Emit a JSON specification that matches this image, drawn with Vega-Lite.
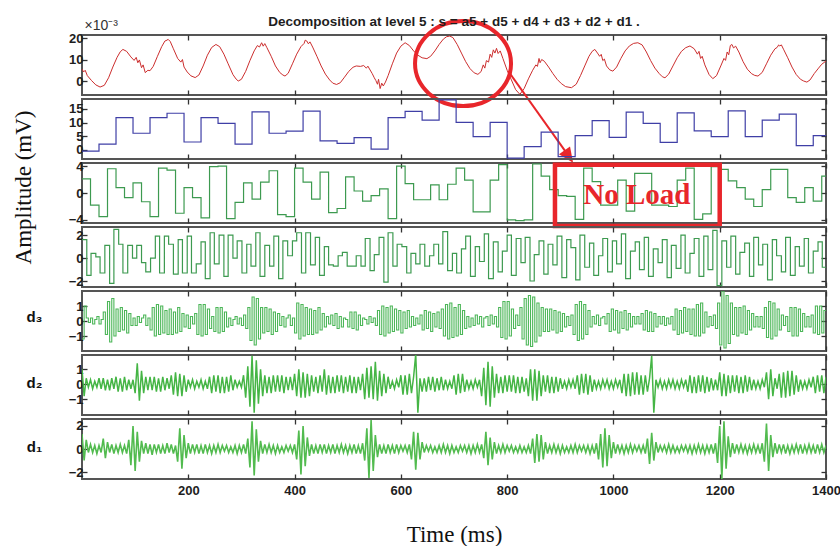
{
  "$schema": "https://vega.github.io/schema/vega-lite/v6.json",
  "background": "white",
  "padding": {"left": 11, "top": 12, "right": 0, "bottom": 0},
  "title": {"text": "Decomposition at level 5 : s = a5 + d5 + d4 + d3 + d2 + d1 .", "anchor": "middle", "frame": "group", "font": "Liberation Sans", "fontSize": 13.5, "fontWeight": "bold", "color": "#1e1e1e", "offset": -16},
  "spacing": 4,
  "bounds": "flush",
  "config": {
    "view": {"stroke": "#555555", "strokeWidth": 2},
    "axis": {"grid": false, "domain": false, "labelFlush": false, "tickColor": "#333333", "tickWidth": 1.3, "tickSize": -5, "labelFont": "Liberation Sans", "labelFontWeight": "bold", "labelFontSize": 13, "labelColor": "#1e1e1e", "labelPadding": 4, "titleFont": "Liberation Serif", "titleFontWeight": "normal", "titleFontSize": 23, "titleColor": "#111111"}
  },
  "datasets": {
    "s": [
      {"x":0,"y":5.6},{"x":3,"y":4.2},{"x":6,"y":5.0},{"x":10,"y":2.5},{"x":18,"y":0.2},{"x":26,"y":-1.8},{"x":34,"y":-2.8},{"x":42,"y":-2.0},{"x":50,"y":1.5},{"x":58,"y":6.5},{"x":66,"y":11.0},{"x":72,"y":13.6},{"x":77,"y":14.7},{"x":84,"y":13.8},{"x":92,"y":11.2},{"x":98,"y":9.6},{"x":102,"y":11.0},{"x":105,"y":8.5},{"x":108,"y":9.8},{"x":112,"y":6.2},{"x":115,"y":7.5},{"x":119,"y":3.9},{"x":124,"y":5.0},{"x":128,"y":4.8},{"x":134,"y":6.8},{"x":142,"y":11.5},{"x":150,"y":16.0},{"x":156,"y":18.6},{"x":160,"y":19.0},{"x":162,"y":19.4},{"x":166,"y":18.4},{"x":172,"y":15.0},{"x":180,"y":10.5},{"x":186,"y":8.8},{"x":189,"y":10.0},{"x":192,"y":6.5},{"x":198,"y":4.2},{"x":205,"y":2.4},{"x":213,"y":1.6},{"x":220,"y":2.8},{"x":228,"y":7.0},{"x":236,"y":12.0},{"x":244,"y":15.6},{"x":252,"y":17.0},{"x":259,"y":16.0},{"x":267,"y":12.5},{"x":275,"y":8.0},{"x":284,"y":3.0},{"x":290,"y":0.9},{"x":294,"y":0.0},{"x":300,"y":0.8},{"x":308,"y":4.5},{"x":316,"y":9.5},{"x":324,"y":14.0},{"x":330,"y":16.5},{"x":334,"y":15.8},{"x":338,"y":17.8},{"x":341,"y":16.2},{"x":344,"y":17.4},{"x":348,"y":15.5},{"x":356,"y":11.5},{"x":364,"y":7.0},{"x":372,"y":4.0},{"x":378,"y":2.8},{"x":382,"y":2.3},{"x":388,"y":3.6},{"x":396,"y":8.0},{"x":404,"y":12.5},{"x":412,"y":16.0},{"x":418,"y":17.5},{"x":420,"y":19.0},{"x":423,"y":18.6},{"x":426,"y":17.3},{"x":429,"y":18.2},{"x":434,"y":15.8},{"x":442,"y":11.5},{"x":450,"y":7.0},{"x":458,"y":3.2},{"x":466,"y":0.5},{"x":472,"y":-1.0},{"x":479,"y":-1.6},{"x":486,"y":-0.8},{"x":494,"y":1.8},{"x":502,"y":4.5},{"x":510,"y":6.4},{"x":516,"y":7.0},{"x":524,"y":6.8},{"x":530,"y":7.2},{"x":535,"y":6.0},{"x":538,"y":6.9},{"x":541,"y":5.6},{"x":546,"y":3.5},{"x":550,"y":1.5},{"x":553,"y":0.2},{"x":556,"y":-1.5},{"x":558,"y":0.8},{"x":561,"y":-3.5},{"x":564,"y":-1.0},{"x":567,"y":-2.3},{"x":571,"y":-0.5},{"x":576,"y":2.5},{"x":584,"y":8.0},{"x":592,"y":13.0},{"x":600,"y":16.2},{"x":608,"y":17.8},{"x":616,"y":16.5},{"x":624,"y":14.0},{"x":632,"y":12.0},{"x":640,"y":10.8},{"x":649,"y":10.4},{"x":656,"y":11.5},{"x":664,"y":14.0},{"x":672,"y":17.0},{"x":680,"y":19.5},{"x":686,"y":20.6},{"x":692,"y":20.9},{"x":698,"y":20.2},{"x":706,"y":17.0},{"x":714,"y":13.0},{"x":722,"y":9.0},{"x":730,"y":5.8},{"x":738,"y":3.8},{"x":745,"y":3.1},{"x":751,"y":4.4},{"x":755,"y":7.5},{"x":758,"y":6.0},{"x":761,"y":9.5},{"x":765,"y":8.8},{"x":768,"y":12.5},{"x":771,"y":11.0},{"x":774,"y":14.5},{"x":777,"y":13.0},{"x":780,"y":15.2},{"x":783,"y":12.8},{"x":787,"y":14.0},{"x":792,"y":10.5},{"x":800,"y":5.0},{"x":808,"y":0.5},{"x":816,"y":-4.0},{"x":824,"y":-6.2},{"x":832,"y":-3.5},{"x":840,"y":1.0},{"x":848,"y":5.0},{"x":854,"y":7.5},{"x":857,"y":6.8},{"x":860,"y":10.5},{"x":862,"y":8.5},{"x":865,"y":10.0},{"x":870,"y":9.2},{"x":878,"y":6.5},{"x":886,"y":3.5},{"x":894,"y":0.8},{"x":902,"y":-1.2},{"x":910,"y":-2.6},{"x":921,"y":-3.1},{"x":930,"y":-1.5},{"x":938,"y":2.5},{"x":946,"y":7.0},{"x":954,"y":11.5},{"x":960,"y":13.8},{"x":965,"y":14.7},{"x":970,"y":13.0},{"x":974,"y":11.5},{"x":977,"y":12.4},{"x":980,"y":9.5},{"x":983,"y":10.2},{"x":987,"y":7.0},{"x":993,"y":5.2},{"x":999,"y":4.6},{"x":1006,"y":6.5},{"x":1014,"y":10.5},{"x":1022,"y":14.0},{"x":1030,"y":16.3},{"x":1038,"y":17.5},{"x":1046,"y":17.8},{"x":1054,"y":16.8},{"x":1062,"y":13.5},{"x":1070,"y":9.5},{"x":1078,"y":6.0},{"x":1086,"y":3.5},{"x":1092,"y":2.0},{"x":1097,"y":1.5},{"x":1104,"y":3.2},{"x":1112,"y":7.0},{"x":1120,"y":10.8},{"x":1128,"y":13.8},{"x":1136,"y":15.5},{"x":1144,"y":16.3},{"x":1152,"y":15.0},{"x":1158,"y":12.5},{"x":1161,"y":13.8},{"x":1164,"y":10.5},{"x":1167,"y":11.5},{"x":1172,"y":7.5},{"x":1180,"y":3.0},{"x":1187,"y":1.1},{"x":1194,"y":2.5},{"x":1202,"y":7.0},{"x":1208,"y":10.5},{"x":1211,"y":9.6},{"x":1214,"y":13.5},{"x":1217,"y":12.2},{"x":1220,"y":16.5},{"x":1223,"y":17.0},{"x":1226,"y":15.4},{"x":1230,"y":16.2},{"x":1236,"y":13.5},{"x":1244,"y":9.0},{"x":1252,"y":5.5},{"x":1260,"y":3.4},{"x":1266,"y":2.6},{"x":1272,"y":2.3},{"x":1280,"y":4.0},{"x":1288,"y":8.0},{"x":1296,"y":12.0},{"x":1304,"y":15.0},{"x":1308,"y":15.6},{"x":1311,"y":16.8},{"x":1313,"y":16.3},{"x":1316,"y":16.8},{"x":1320,"y":14.8},{"x":1328,"y":10.8},{"x":1336,"y":6.5},{"x":1344,"y":3.0},{"x":1352,"y":0.8},{"x":1358,"y":0.0},{"x":1364,"y":-0.5},{"x":1370,"y":0.5},{"x":1378,"y":3.5},{"x":1386,"y":6.0},{"x":1392,"y":7.8},{"x":1400,"y":9.3}
    ],
    "a5": [
      {"x":0,"y":-0.4},{"x":32,"y":2.1},{"x":64,"y":11.8},{"x":96,"y":6.1},{"x":128,"y":11.8},{"x":160,"y":13.4},{"x":192,"y":2.9},{"x":224,"y":11.8},{"x":256,"y":9.7},{"x":288,"y":2.1},{"x":320,"y":13.9},{"x":352,"y":6.1},{"x":384,"y":6.9},{"x":416,"y":14.2},{"x":448,"y":3.3},{"x":480,"y":2.4},{"x":512,"y":4.5},{"x":544,"y":0.3},{"x":576,"y":11.8},{"x":608,"y":14.1},{"x":640,"y":10.9},{"x":672,"y":18.3},{"x":704,"y":10.1},{"x":736,"y":4.9},{"x":768,"y":10.1},{"x":800,"y":-3.0},{"x":832,"y":1.2},{"x":864,"y":6.5},{"x":896,"y":-2.4},{"x":928,"y":5.2},{"x":960,"y":10.7},{"x":992,"y":4.6},{"x":1024,"y":13.8},{"x":1056,"y":9.7},{"x":1088,"y":2.8},{"x":1120,"y":13.5},{"x":1152,"y":7.0},{"x":1184,"y":4.9},{"x":1216,"y":14.3},{"x":1248,"y":4.9},{"x":1280,"y":10.9},{"x":1312,"y":13.1},{"x":1344,"y":1.6},{"x":1376,"y":5.2},{"x":1400,"y":5.2}
    ],
    "d5": [
      {"x":0,"y":2.1},{"x":16,"y":-1.8},{"x":32,"y":-3.5},{"x":48,"y":3.6},{"x":64,"y":0.8},{"x":80,"y":-0.7},{"x":96,"y":1.5},{"x":112,"y":-1.3},{"x":128,"y":-3.5},{"x":144,"y":3.7},{"x":160,"y":3.4},{"x":176,"y":-3.0},{"x":192,"y":0.8},{"x":208,"y":-0.7},{"x":224,"y":-3.7},{"x":240,"y":3.9},{"x":256,"y":4.0},{"x":272,"y":-3.8},{"x":288,"y":-1.4},{"x":304,"y":1.5},{"x":320,"y":-0.9},{"x":336,"y":1.6},{"x":352,"y":3.3},{"x":368,"y":-3.2},{"x":384,"y":-3.5},{"x":400,"y":3.7},{"x":416,"y":1.6},{"x":432,"y":-0.9},{"x":448,"y":3.1},{"x":464,"y":-2.9},{"x":480,"y":-2.3},{"x":496,"y":2.4},{"x":512,"y":0.3},{"x":528,"y":-1.2},{"x":544,"y":-0.4},{"x":560,"y":0.6},{"x":576,"y":-3.8},{"x":592,"y":4.0},{"x":608,"y":1.4},{"x":624,"y":-1.0},{"x":640,"y":-1.0},{"x":656,"y":1.2},{"x":672,"y":-1.0},{"x":688,"y":1.3},{"x":704,"y":3.7},{"x":720,"y":1.9},{"x":736,"y":-2.8},{"x":752,"y":-2.8},{"x":768,"y":1.9},{"x":784,"y":4.2},{"x":800,"y":-4.0},{"x":816,"y":-4.1},{"x":832,"y":-4.0},{"x":848,"y":4.3},{"x":864,"y":2.5},{"x":880,"y":0.5},{"x":896,"y":-0.4},{"x":912,"y":-0.5},{"x":928,"y":-3.9},{"x":944,"y":3.7},{"x":960,"y":1.7},{"x":976,"y":-1.8},{"x":992,"y":-1.8},{"x":1008,"y":1.9},{"x":1024,"y":-2.7},{"x":1040,"y":2.9},{"x":1056,"y":2.9},{"x":1072,"y":-1.8},{"x":1088,"y":-1.8},{"x":1104,"y":-2.0},{"x":1120,"y":1.9},{"x":1136,"y":3.7},{"x":1152,"y":-3.9},{"x":1168,"y":-3.1},{"x":1184,"y":3.9},{"x":1200,"y":3.5},{"x":1216,"y":1.8},{"x":1232,"y":0.8},{"x":1248,"y":-0.9},{"x":1264,"y":-2.0},{"x":1280,"y":0.5},{"x":1296,"y":3.5},{"x":1312,"y":3.5},{"x":1328,"y":-0.7},{"x":1344,"y":-1.4},{"x":1360,"y":0.8},{"x":1376,"y":-1.2},{"x":1392,"y":2.5},{"x":1400,"y":2.5}
    ],
    "d4": [
      {"x":0,"y":1.6},{"x":9,"y":-1.5},{"x":17,"y":0.4},{"x":26,"y":0.1},{"x":34,"y":-1.3},
      {"x":43,"y":1.1},{"x":52,"y":-2.2},{"x":60,"y":2.5},{"x":69,"y":1.2},{"x":77,"y":-1.3},
      {"x":86,"y":1.1},{"x":95,"y":0},{"x":103,"y":1.1},{"x":112,"y":-0.4},{"x":120,"y":-1.2},
      {"x":129,"y":0},{"x":138,"y":1.9},{"x":146,"y":-1.3},{"x":155,"y":1.9},{"x":163,"y":1.2},
      {"x":172,"y":-1.4},{"x":181,"y":1.6},{"x":189,"y":-1.3},{"x":198,"y":1.9},{"x":206,"y":-1.3},
      {"x":215,"y":-0.5},{"x":224,"y":1.4},{"x":232,"y":-1.8},{"x":241,"y":2.2},{"x":249,"y":-0.5},
      {"x":258,"y":2.0},{"x":267,"y":-1.6},{"x":275,"y":2.0},{"x":284,"y":0},{"x":292,"y":1.5},
      {"x":301,"y":-1.3},{"x":310,"y":1.2},{"x":318,"y":-0.7},{"x":327,"y":2.2},{"x":335,"y":-1.6},
      {"x":344,"y":1.1},{"x":353,"y":-0.7},{"x":361,"y":1.9},{"x":370,"y":-1.8},{"x":378,"y":1.5},
      {"x":387,"y":0.2},{"x":396,"y":1.5},{"x":404,"y":2.2},{"x":413,"y":-1.3},{"x":421,"y":2.2},
      {"x":430,"y":-0.6},{"x":439,"y":1.8},{"x":447,"y":-1.5},{"x":456,"y":1.0},{"x":464,"y":-0.6},
      {"x":473,"y":-0.7},{"x":482,"y":0.2},{"x":490,"y":0.5},{"x":499,"y":-0.7},{"x":507,"y":-0.7},
      {"x":516,"y":0.2},{"x":525,"y":-0.7},{"x":533,"y":1.7},{"x":542,"y":-1.1},{"x":550,"y":0.3},
      {"x":559,"y":1.8},{"x":568,"y":-2.1},{"x":576,"y":2.2},{"x":585,"y":-0.7},{"x":593,"y":1.2},
      {"x":602,"y":1.0},{"x":611,"y":-1.3},{"x":619,"y":0.4},{"x":628,"y":-0.5},{"x":636,"y":1.2},
      {"x":645,"y":-0.7},{"x":654,"y":0.2},{"x":662,"y":1.2},{"x":671,"y":-0.5},{"x":679,"y":2.3},
      {"x":688,"y":-1.1},{"x":697,"y":0.4},{"x":705,"y":-1.3},{"x":714,"y":0.8},{"x":722,"y":1.9},
      {"x":731,"y":-1.6},{"x":740,"y":1.0},{"x":748,"y":-0.3},{"x":757,"y":2.1},{"x":765,"y":-1.8},
      {"x":774,"y":1.4},{"x":783,"y":-1.2},{"x":791,"y":0.6},{"x":800,"y":2.0},{"x":808,"y":-1.5},
      {"x":817,"y":1.7},{"x":826,"y":-0.4},{"x":834,"y":1.8},{"x":843,"y":-2.0},{"x":851,"y":0.3},
      {"x":860,"y":1.5},{"x":869,"y":-1.4},{"x":877,"y":1.2},{"x":886,"y":-0.6},{"x":894,"y":1.9},
      {"x":903,"y":-1.7},{"x":912,"y":1.6},{"x":920,"y":0.9},{"x":929,"y":-1.9},{"x":937,"y":2.0},
      {"x":946,"y":-0.8},{"x":955,"y":1.3},{"x":963,"y":-1.5},{"x":972,"y":0.2},{"x":980,"y":1.7},
      {"x":989,"y":-1.2},{"x":998,"y":1.5},{"x":1006,"y":-0.5},{"x":1015,"y":2.1},{"x":1023,"y":-1.8},
      {"x":1032,"y":0.6},{"x":1041,"y":1.4},{"x":1049,"y":-1.0},{"x":1058,"y":1.8},{"x":1066,"y":-1.6},
      {"x":1075,"y":0.8},{"x":1084,"y":-0.4},{"x":1092,"y":1.6},{"x":1101,"y":-1.7},{"x":1109,"y":1.1},
      {"x":1118,"y":-0.9},{"x":1127,"y":2.0},{"x":1135,"y":-1.3},{"x":1144,"y":0.4},{"x":1152,"y":1.7},
      {"x":1161,"y":-1.6},{"x":1170,"y":1.9},{"x":1178,"y":-1.0},{"x":1187,"y":2.4},{"x":1195,"y":-2.4},
      {"x":1204,"y":1.5},{"x":1213,"y":-0.8},{"x":1221,"y":1.9},{"x":1230,"y":-1.4},{"x":1238,"y":0.5},
      {"x":1247,"y":1.3},{"x":1256,"y":-1.6},{"x":1264,"y":1.8},{"x":1273,"y":-0.6},{"x":1281,"y":1.2},
      {"x":1290,"y":-1.9},{"x":1299,"y":1.6},{"x":1307,"y":0.2},{"x":1316,"y":-1.2},{"x":1324,"y":1.8},
      {"x":1333,"y":-1.5},{"x":1342,"y":1.0},{"x":1350,"y":-0.7},{"x":1359,"y":1.7},{"x":1367,"y":-1.3},
      {"x":1376,"y":0.6},{"x":1385,"y":1.4},{"x":1393,"y":-0.8},{"x":1400,"y":-0.8}
    ],
    "d3": [
      {"x":0,"y":-1.2},{"x":4,"y":1.0},{"x":8,"y":0.2},{"x":12,"y":-0.1},{"x":16,"y":0.2},{"x":20,"y":-0.2},{"x":24,"y":0.1},{"x":28,"y":0.3},{"x":32,"y":-0.2},{"x":36,"y":0.1},
      {"x":40,"y":0.6},{"x":44,"y":-0.9},{"x":48,"y":1.3},{"x":52,"y":-1.4},{"x":56,"y":1.5},{"x":60,"y":-1.0},
      {"x":64,"y":0.8},{"x":68,"y":-0.7},{"x":72,"y":0.9},{"x":76,"y":-0.6},{"x":80,"y":0.7},{"x":84,"y":-0.8},{"x":88,"y":0.5},{"x":92,"y":-0.3},
      {"x":96,"y":0.2},{"x":100,"y":-0.3},{"x":104,"y":0.3},{"x":108,"y":-0.1},{"x":112,"y":0.2},{"x":116,"y":0.4},{"x":120,"y":-0.3},{"x":124,"y":0.2},
      {"x":128,"y":-0.6},{"x":132,"y":0.9},{"x":136,"y":-1.0},{"x":140,"y":1.1},{"x":144,"y":-0.9},{"x":148,"y":1.0},{"x":152,"y":-0.8},{"x":156,"y":0.7},
      {"x":160,"y":-0.9},{"x":164,"y":0.8},{"x":168,"y":-0.9},{"x":172,"y":0.6},{"x":176,"y":-0.8},{"x":180,"y":0.9},{"x":184,"y":-0.7},{"x":188,"y":0.5},{"x":192,"y":-0.4},
      {"x":196,"y":0.4},{"x":200,"y":-0.5},{"x":204,"y":0.3},{"x":208,"y":-0.2},{"x":212,"y":0.5},
      {"x":216,"y":-0.9},{"x":220,"y":1.1},{"x":224,"y":-1.0},{"x":228,"y":1.1},{"x":232,"y":-0.9},{"x":236,"y":0.8},{"x":240,"y":-0.5},{"x":244,"y":0.3},
      {"x":248,"y":-0.7},{"x":252,"y":0.9},{"x":256,"y":-0.8},{"x":260,"y":0.9},{"x":264,"y":-0.7},{"x":268,"y":0.6},{"x":272,"y":-0.4},
      {"x":276,"y":0.2},{"x":280,"y":-0.3},{"x":284,"y":0.1},{"x":288,"y":0.3},{"x":292,"y":-0.2},{"x":296,"y":0.2},{"x":300,"y":-0.3},{"x":304,"y":0.4},{"x":308,"y":-0.5},
      {"x":312,"y":0.9},{"x":316,"y":-1.3},{"x":320,"y":1.6},{"x":324,"y":-1.6},{"x":328,"y":1.5},{"x":332,"y":-1.2},{"x":336,"y":0.9},
      {"x":340,"y":-0.8},{"x":344,"y":0.9},{"x":348,"y":-0.7},{"x":352,"y":0.8},{"x":356,"y":-0.9},{"x":360,"y":0.6},{"x":364,"y":-0.7},{"x":368,"y":0.5},{"x":372,"y":-0.3},
      {"x":376,"y":0.3},{"x":380,"y":-0.4},{"x":384,"y":0.2},{"x":388,"y":0.4},{"x":392,"y":-0.3},{"x":396,"y":0.2},
      {"x":400,"y":-0.8},{"x":404,"y":1.2},{"x":408,"y":-1.2},{"x":412,"y":1.1},{"x":416,"y":-1.0},{"x":420,"y":0.9},
      {"x":424,"y":-0.9},{"x":428,"y":0.8},{"x":432,"y":-0.9},{"x":436,"y":0.7},{"x":440,"y":-0.8},{"x":444,"y":0.9},{"x":448,"y":-0.6},{"x":452,"y":0.5},{"x":456,"y":-0.4},{"x":460,"y":0.3},
      {"x":464,"y":-0.2},{"x":468,"y":0.4},{"x":472,"y":-0.3},{"x":476,"y":0.5},{"x":480,"y":-0.5},{"x":484,"y":0.3},{"x":488,"y":-0.4},{"x":492,"y":0.2},{"x":496,"y":0.1},
      {"x":500,"y":-0.4},{"x":504,"y":0.6},{"x":508,"y":-0.5},{"x":512,"y":0.6},{"x":516,"y":-0.6},{"x":520,"y":0.4},{"x":524,"y":-0.3},{"x":528,"y":0.2},
      {"x":532,"y":0.1},{"x":536,"y":-0.2},{"x":540,"y":0.3},{"x":544,"y":-0.1},{"x":548,"y":0.2},{"x":552,"y":-0.3},
      {"x":556,"y":0.7},{"x":560,"y":-0.9},{"x":564,"y":1.0},{"x":568,"y":-1.0},{"x":572,"y":0.9},{"x":576,"y":-0.8},{"x":580,"y":1.0},{"x":584,"y":-0.7},
      {"x":588,"y":0.8},{"x":592,"y":-0.6},{"x":596,"y":0.7},{"x":600,"y":-0.8},{"x":604,"y":0.6},{"x":608,"y":-0.5},{"x":612,"y":0.7},{"x":616,"y":-0.4},{"x":620,"y":0.3},
      {"x":624,"y":-0.3},{"x":628,"y":0.2},{"x":632,"y":-0.2},
      {"x":636,"y":0.4},{"x":640,"y":-0.6},{"x":644,"y":0.7},{"x":648,"y":-0.5},{"x":652,"y":0.6},{"x":656,"y":-0.7},{"x":660,"y":0.5},{"x":664,"y":-0.4},{"x":668,"y":0.6},{"x":672,"y":-0.5},
      {"x":676,"y":0.8},{"x":680,"y":-1.0},{"x":684,"y":1.1},{"x":688,"y":-1.2},{"x":692,"y":1.2},{"x":696,"y":-1.1},{"x":700,"y":0.9},{"x":704,"y":-1.0},{"x":708,"y":1.1},{"x":712,"y":-0.9},{"x":716,"y":0.7},{"x":720,"y":-0.5},
      {"x":724,"y":0.3},{"x":728,"y":-0.4},{"x":732,"y":0.2},{"x":736,"y":-0.3},{"x":740,"y":0.4},{"x":744,"y":-0.2},{"x":748,"y":0.3},{"x":752,"y":-0.4},{"x":756,"y":0.2},{"x":760,"y":0.3},{"x":764,"y":-0.3},{"x":768,"y":0.4},{"x":772,"y":-0.2},{"x":776,"y":0.3},{"x":780,"y":-0.4},
      {"x":784,"y":0.9},{"x":788,"y":-1.1},{"x":792,"y":1.3},{"x":796,"y":-1.2},{"x":800,"y":1.3},{"x":804,"y":-1.0},{"x":808,"y":0.8},
      {"x":812,"y":-0.5},{"x":816,"y":0.4},{"x":820,"y":-0.3},
      {"x":824,"y":0.9},{"x":828,"y":-1.2},{"x":832,"y":1.5},{"x":836,"y":-1.6},{"x":840,"y":1.7},{"x":844,"y":-1.7},{"x":848,"y":1.6},{"x":852,"y":-1.4},{"x":856,"y":1.2},{"x":860,"y":-1.0},{"x":864,"y":0.9},{"x":868,"y":-0.7},
      {"x":872,"y":0.8},{"x":876,"y":-0.7},{"x":880,"y":0.8},{"x":884,"y":-0.6},{"x":888,"y":0.7},{"x":892,"y":-0.8},{"x":896,"y":0.6},{"x":900,"y":-0.7},{"x":904,"y":0.5},{"x":908,"y":-0.4},{"x":912,"y":0.3},
      {"x":916,"y":-0.3},{"x":920,"y":0.4},
      {"x":924,"y":-0.9},{"x":928,"y":1.1},{"x":932,"y":-1.3},{"x":936,"y":1.3},{"x":940,"y":-1.2},{"x":944,"y":1.1},{"x":948,"y":-0.9},{"x":952,"y":0.7},
      {"x":956,"y":-0.4},{"x":960,"y":0.3},{"x":964,"y":-0.2},{"x":968,"y":0.4},{"x":972,"y":-0.3},{"x":976,"y":0.2},{"x":980,"y":0.3},{"x":984,"y":-0.2},
      {"x":988,"y":0.5},{"x":992,"y":-0.7},{"x":996,"y":0.8},{"x":1000,"y":-0.6},{"x":1004,"y":0.7},{"x":1008,"y":-0.8},{"x":1012,"y":0.6},{"x":1016,"y":-0.5},{"x":1020,"y":0.7},{"x":1024,"y":-0.6},{"x":1028,"y":0.5},{"x":1032,"y":-0.4},{"x":1036,"y":0.3},
      {"x":1040,"y":-0.2},{"x":1044,"y":0.3},{"x":1048,"y":-0.2},
      {"x":1052,"y":0.5},{"x":1056,"y":-0.6},{"x":1060,"y":0.7},{"x":1064,"y":-0.7},{"x":1068,"y":0.6},{"x":1072,"y":-0.7},{"x":1076,"y":0.5},{"x":1080,"y":-0.4},{"x":1084,"y":0.3},
      {"x":1088,"y":-0.2},{"x":1092,"y":0.3},{"x":1096,"y":-0.3},{"x":1100,"y":0.2},{"x":1104,"y":-0.2},{"x":1108,"y":0.3},
      {"x":1112,"y":-0.6},{"x":1116,"y":0.8},{"x":1120,"y":-0.9},{"x":1124,"y":0.7},{"x":1128,"y":-0.8},{"x":1132,"y":0.9},{"x":1136,"y":-0.7},{"x":1140,"y":0.8},{"x":1144,"y":-0.9},{"x":1148,"y":0.8},
      {"x":1152,"y":-1.0},{"x":1156,"y":1.1},{"x":1160,"y":-1.0},{"x":1164,"y":1.2},{"x":1168,"y":-0.8},{"x":1172,"y":0.6},
      {"x":1176,"y":-0.4},{"x":1180,"y":0.3},{"x":1184,"y":-0.3},{"x":1188,"y":0.4},{"x":1192,"y":-0.5},
      {"x":1196,"y":1.2},{"x":1200,"y":-1.6},{"x":1204,"y":2.0},{"x":1208,"y":-1.8},{"x":1212,"y":1.7},{"x":1216,"y":-1.5},{"x":1220,"y":1.2},{"x":1224,"y":-0.9},
      {"x":1228,"y":0.9},{"x":1232,"y":-1.0},{"x":1236,"y":0.9},{"x":1240,"y":-0.8},{"x":1244,"y":1.0},{"x":1248,"y":-0.9},{"x":1252,"y":0.7},{"x":1256,"y":-0.6},{"x":1260,"y":0.5},
      {"x":1264,"y":-0.4},{"x":1268,"y":0.3},{"x":1272,"y":-0.4},{"x":1276,"y":0.3},{"x":1280,"y":-0.5},
      {"x":1284,"y":0.9},{"x":1288,"y":-1.1},{"x":1292,"y":1.3},{"x":1296,"y":-1.2},{"x":1300,"y":1.2},{"x":1304,"y":-1.0},{"x":1308,"y":0.8},{"x":1312,"y":-0.6},
      {"x":1316,"y":0.4},{"x":1320,"y":-0.3},{"x":1324,"y":0.3},
      {"x":1328,"y":-0.7},{"x":1332,"y":0.9},{"x":1336,"y":-1.0},{"x":1340,"y":0.9},{"x":1344,"y":-1.0},{"x":1348,"y":0.8},{"x":1352,"y":-0.7},{"x":1356,"y":0.5},
      {"x":1360,"y":-0.4},{"x":1364,"y":0.3},{"x":1368,"y":-0.4},{"x":1372,"y":0.4},
      {"x":1376,"y":-0.8},{"x":1380,"y":1.0},{"x":1384,"y":-0.9},{"x":1388,"y":1.0},{"x":1392,"y":-0.8},{"x":1396,"y":0.7},{"x":1400,"y":0.7}
    ],
    "d2": [
      {"x":0,"y":1.0},{"x":4,"y":-0.8},{"x":8,"y":0.4},{"x":12,"y":-0.2},{"x":16,"y":0.3},{"x":20,"y":-0.3},{"x":24,"y":0.2},{"x":28,"y":-0.2},
      {"x":32,"y":0.4},{"x":36,"y":-0.3},{"x":40,"y":0.4},{"x":44,"y":-0.4},{"x":48,"y":0.3},{"x":52,"y":-0.4},{"x":56,"y":0.4},{"x":60,"y":-0.3},
      {"x":64,"y":0.5},{"x":68,"y":-0.5},{"x":72,"y":0.4},{"x":76,"y":-0.5},{"x":80,"y":0.5},{"x":84,"y":-0.4},{"x":88,"y":0.3},{"x":92,"y":-0.3},{"x":96,"y":0.3},
      {"x":100,"y":-0.6},{"x":104,"y":1.4},{"x":108,"y":-1.1},{"x":112,"y":0.9},{"x":116,"y":-0.6},{"x":120,"y":0.5},{"x":124,"y":-0.4},
      {"x":128,"y":0.5},{"x":132,"y":-0.4},{"x":136,"y":0.5},{"x":140,"y":-0.5},{"x":144,"y":0.4},{"x":148,"y":-0.5},{"x":152,"y":0.5},{"x":156,"y":-0.4},{"x":160,"y":0.4},{"x":164,"y":-0.3},
      {"x":168,"y":0.6},{"x":172,"y":-0.7},{"x":176,"y":0.8},{"x":180,"y":-0.8},{"x":184,"y":0.7},{"x":188,"y":-0.8},{"x":192,"y":0.6},{"x":196,"y":-0.5},
      {"x":200,"y":0.3},{"x":204,"y":-0.2},{"x":208,"y":0.3},{"x":212,"y":-0.3},{"x":216,"y":0.2},{"x":220,"y":-0.2},{"x":224,"y":0.3},{"x":228,"y":-0.3},{"x":232,"y":0.2},{"x":236,"y":-0.3},
      {"x":240,"y":0.5},{"x":244,"y":-0.6},{"x":248,"y":0.6},{"x":252,"y":-0.5},{"x":256,"y":0.6},{"x":260,"y":-0.6},{"x":264,"y":0.5},{"x":268,"y":-0.6},{"x":272,"y":0.5},{"x":276,"y":-0.5},{"x":280,"y":0.6},{"x":284,"y":-0.4},{"x":288,"y":0.3},
      {"x":292,"y":-0.2},{"x":296,"y":0.2},{"x":300,"y":-0.2},
      {"x":304,"y":0.6},{"x":308,"y":-0.9},{"x":312,"y":1.2},{"x":316,"y":-1.5},{"x":320,"y":1.9},{"x":324,"y":-1.9},{"x":328,"y":1.6},{"x":332,"y":-1.3},{"x":336,"y":1.0},{"x":340,"y":-0.8},{"x":344,"y":0.6},
      {"x":348,"y":-0.6},{"x":352,"y":0.5},{"x":356,"y":-0.6},{"x":360,"y":0.6},{"x":364,"y":-0.5},{"x":368,"y":0.6},{"x":372,"y":-0.5},{"x":376,"y":0.6},{"x":380,"y":-0.6},{"x":384,"y":0.5},{"x":388,"y":-0.4},{"x":392,"y":0.5},{"x":396,"y":-0.4},
      {"x":400,"y":0.7},{"x":404,"y":-0.8},{"x":408,"y":1.0},{"x":412,"y":-0.9},{"x":416,"y":0.8},{"x":420,"y":-0.9},{"x":424,"y":0.7},{"x":428,"y":-0.8},{"x":432,"y":0.6},{"x":436,"y":-0.5},
      {"x":440,"y":0.5},{"x":444,"y":-0.6},{"x":448,"y":0.6},{"x":452,"y":-0.5},{"x":456,"y":1.0},{"x":460,"y":-0.7},{"x":464,"y":0.6},{"x":468,"y":-0.6},{"x":472,"y":0.5},{"x":476,"y":-0.6},{"x":480,"y":0.6},{"x":484,"y":-0.5},{"x":488,"y":0.6},{"x":492,"y":-0.6},{"x":496,"y":0.5},{"x":500,"y":-0.5},{"x":504,"y":0.6},{"x":508,"y":-0.6},{"x":512,"y":0.5},{"x":516,"y":-0.6},{"x":520,"y":0.5},{"x":524,"y":-0.4},
      {"x":528,"y":0.7},{"x":532,"y":-1.0},{"x":536,"y":1.1},{"x":540,"y":-0.9},{"x":544,"y":1.2},{"x":548,"y":-1.0},{"x":552,"y":1.5},{"x":556,"y":-1.1},{"x":560,"y":0.9},{"x":564,"y":-0.8},{"x":568,"y":0.7},{"x":572,"y":-0.6},{"x":576,"y":0.5},
      {"x":580,"y":-0.3},{"x":584,"y":0.2},{"x":588,"y":-0.3},{"x":592,"y":0.3},{"x":596,"y":-0.2},
      {"x":600,"y":0.6},{"x":604,"y":-0.7},{"x":608,"y":0.6},{"x":612,"y":-0.7},{"x":616,"y":0.7},{"x":620,"y":-0.6},{"x":624,"y":0.5},{"x":628,"y":2.0},{"x":632,"y":-1.9},
      {"x":636,"y":0.4},{"x":640,"y":-0.5},{"x":644,"y":0.4},{"x":648,"y":-0.5},{"x":652,"y":0.5},{"x":656,"y":-0.4},{"x":660,"y":0.5},{"x":664,"y":-0.5},{"x":668,"y":0.4},{"x":672,"y":-0.4},{"x":676,"y":0.5},{"x":680,"y":-0.4},{"x":684,"y":0.3},
      {"x":688,"y":-0.3},{"x":692,"y":0.2},{"x":696,"y":-0.3},
      {"x":700,"y":0.6},{"x":704,"y":-0.7},{"x":708,"y":0.7},{"x":712,"y":-0.6},{"x":716,"y":0.7},{"x":720,"y":-0.5},
      {"x":724,"y":0.3},{"x":728,"y":-0.3},{"x":732,"y":0.2},{"x":736,"y":-0.3},{"x":740,"y":0.3},{"x":744,"y":-0.2},{"x":748,"y":0.3},
      {"x":752,"y":-0.8},{"x":756,"y":1.1},{"x":760,"y":-1.4},{"x":764,"y":1.5},{"x":768,"y":-1.5},{"x":772,"y":1.2},{"x":776,"y":-0.9},{"x":780,"y":0.7},
      {"x":784,"y":-0.6},{"x":788,"y":0.5},{"x":792,"y":-0.6},{"x":796,"y":0.6},{"x":800,"y":-0.5},{"x":804,"y":0.6},{"x":808,"y":-0.5},{"x":812,"y":0.6},{"x":816,"y":-0.6},{"x":820,"y":0.5},{"x":824,"y":-0.6},{"x":828,"y":0.5},{"x":832,"y":-0.5},{"x":836,"y":0.4},
      {"x":840,"y":-0.8},{"x":844,"y":1.0},{"x":848,"y":-1.1},{"x":852,"y":1.0},{"x":856,"y":-1.1},{"x":860,"y":0.9},{"x":864,"y":-0.8},{"x":868,"y":0.6},
      {"x":872,"y":-0.5},{"x":876,"y":0.6},{"x":880,"y":-0.6},{"x":884,"y":0.5},{"x":888,"y":-0.6},{"x":892,"y":0.5},{"x":896,"y":-0.5},{"x":900,"y":0.4},
      {"x":904,"y":-0.3},{"x":908,"y":0.2},{"x":912,"y":-0.3},{"x":916,"y":0.3},{"x":920,"y":-0.2},{"x":924,"y":0.3},{"x":928,"y":-0.3},
      {"x":932,"y":0.6},{"x":936,"y":-0.7},{"x":940,"y":0.7},{"x":944,"y":-0.6},{"x":948,"y":0.7},{"x":952,"y":-0.7},{"x":956,"y":0.6},{"x":960,"y":-0.5},
      {"x":964,"y":0.3},{"x":968,"y":-0.3},{"x":972,"y":0.2},{"x":976,"y":-0.3},{"x":980,"y":0.3},{"x":984,"y":-0.2},{"x":988,"y":0.3},{"x":992,"y":-0.3},{"x":996,"y":0.2},{"x":1000,"y":-0.3},{"x":1004,"y":0.3},{"x":1008,"y":-0.2},{"x":1012,"y":0.3},
      {"x":1016,"y":-0.6},{"x":1020,"y":0.7},{"x":1024,"y":-0.8},{"x":1028,"y":0.7},{"x":1032,"y":-0.8},{"x":1036,"y":0.8},{"x":1040,"y":-0.7},{"x":1044,"y":0.8},{"x":1048,"y":-0.7},{"x":1052,"y":0.6},{"x":1056,"y":-0.7},{"x":1060,"y":0.6},{"x":1064,"y":-0.5},{"x":1068,"y":0.4},
      {"x":1072,"y":1.9},{"x":1076,"y":-1.9},
      {"x":1080,"y":0.3},{"x":1084,"y":-0.2},{"x":1088,"y":0.3},{"x":1092,"y":-0.3},{"x":1096,"y":0.2},{"x":1100,"y":-0.3},{"x":1104,"y":0.3},{"x":1108,"y":-0.2},{"x":1112,"y":0.3},{"x":1116,"y":-0.3},{"x":1120,"y":0.2},{"x":1124,"y":-0.3},{"x":1128,"y":0.3},{"x":1132,"y":-0.2},{"x":1136,"y":0.3},
      {"x":1140,"y":-0.5},{"x":1144,"y":0.6},{"x":1148,"y":-0.6},{"x":1152,"y":0.5},{"x":1156,"y":-0.6},{"x":1160,"y":0.6},{"x":1164,"y":-0.5},{"x":1168,"y":0.6},{"x":1172,"y":-0.6},{"x":1176,"y":0.5},{"x":1180,"y":-0.5},{"x":1184,"y":0.4},
      {"x":1188,"y":-0.4},{"x":1192,"y":0.3},{"x":1196,"y":-0.4},
      {"x":1200,"y":0.8},{"x":1204,"y":-0.8},{"x":1208,"y":0.7},{"x":1212,"y":-0.8},{"x":1216,"y":0.6},
      {"x":1220,"y":-0.6},{"x":1224,"y":0.6},{"x":1228,"y":-0.5},{"x":1232,"y":0.6},{"x":1236,"y":-0.6},{"x":1240,"y":0.5},{"x":1244,"y":-0.6},{"x":1248,"y":0.6},{"x":1252,"y":-0.5},{"x":1256,"y":0.5},{"x":1260,"y":-0.4},
      {"x":1264,"y":0.3},{"x":1268,"y":-0.3},{"x":1272,"y":0.2},{"x":1276,"y":-0.3},{"x":1280,"y":0.3},{"x":1284,"y":-0.2},
      {"x":1288,"y":0.8},{"x":1292,"y":-1.0},{"x":1296,"y":1.0},{"x":1300,"y":-0.8},{"x":1304,"y":0.4},{"x":1308,"y":-0.3},
      {"x":1312,"y":0.7},{"x":1316,"y":-0.9},{"x":1320,"y":0.8},{"x":1324,"y":-0.9},{"x":1328,"y":0.9},{"x":1332,"y":-0.8},{"x":1336,"y":0.9},{"x":1340,"y":-0.7},{"x":1344,"y":0.6},{"x":1348,"y":-0.5},
      {"x":1352,"y":0.3},{"x":1356,"y":-0.3},{"x":1360,"y":0.2},{"x":1364,"y":-0.3},{"x":1368,"y":0.3},{"x":1372,"y":-0.2},
      {"x":1376,"y":0.5},{"x":1380,"y":-0.6},{"x":1384,"y":0.6},{"x":1388,"y":-0.5},{"x":1392,"y":0.6},{"x":1396,"y":-0.6},{"x":1400,"y":0.5}
    ],
    "d1": [
      {"x":0,"y":1.3},{"x":4,"y":-1.0},{"x":8,"y":0.8},{"x":12,"y":-0.3},{"x":16,"y":0.4},{"x":20,"y":-0.3},{"x":24,"y":0.3},{"x":28,"y":-0.4},{"x":32,"y":0.3},{"x":36,"y":-0.3},
      {"x":40,"y":0.9},{"x":44,"y":-0.8},{"x":48,"y":0.6},
      {"x":52,"y":-0.3},{"x":56,"y":0.4},{"x":60,"y":-0.4},{"x":64,"y":0.3},{"x":68,"y":-0.3},{"x":72,"y":0.4},{"x":76,"y":-0.3},{"x":80,"y":0.3},{"x":84,"y":-0.4},
      {"x":88,"y":0.8},{"x":92,"y":-1.4},{"x":96,"y":2.0},{"x":100,"y":-1.9},{"x":104,"y":1.5},{"x":108,"y":-1.1},{"x":112,"y":0.7},
      {"x":116,"y":-0.4},{"x":120,"y":0.5},{"x":124,"y":-0.4},{"x":128,"y":0.4},{"x":132,"y":-0.5},{"x":136,"y":0.4},{"x":140,"y":-0.3},{"x":144,"y":0.4},{"x":148,"y":-0.4},{"x":152,"y":0.3},{"x":156,"y":-0.4},{"x":160,"y":0.5},{"x":164,"y":-0.3},{"x":168,"y":0.4},{"x":172,"y":-0.4},{"x":176,"y":0.3},
      {"x":180,"y":-1.1},{"x":184,"y":1.8},{"x":188,"y":-1.7},{"x":192,"y":1.2},{"x":196,"y":-0.8},{"x":200,"y":0.5},
      {"x":204,"y":-0.4},{"x":208,"y":0.4},{"x":212,"y":-0.3},{"x":216,"y":0.4},{"x":220,"y":-0.4},{"x":224,"y":0.3},{"x":228,"y":-0.4},{"x":232,"y":0.4},{"x":236,"y":-0.3},{"x":240,"y":0.3},{"x":244,"y":-0.4},{"x":248,"y":0.3},{"x":252,"y":-0.3},{"x":256,"y":0.4},{"x":260,"y":-0.3},{"x":264,"y":0.3},{"x":268,"y":-0.2},{"x":272,"y":0.3},{"x":276,"y":-0.3},{"x":280,"y":0.2},{"x":284,"y":-0.3},{"x":288,"y":0.3},{"x":292,"y":-0.4},{"x":296,"y":0.3},{"x":300,"y":-0.3},{"x":304,"y":0.4},{"x":308,"y":-0.4},
      {"x":312,"y":0.9},{"x":316,"y":-1.6},{"x":320,"y":2.4},{"x":324,"y":-2.3},{"x":328,"y":1.7},{"x":332,"y":-1.1},{"x":336,"y":0.7},
      {"x":340,"y":-0.4},{"x":344,"y":0.4},{"x":348,"y":-0.3},{"x":352,"y":0.4},{"x":356,"y":-0.3},{"x":360,"y":0.3},{"x":364,"y":-0.4},{"x":368,"y":0.3},{"x":372,"y":-0.3},{"x":376,"y":0.2},{"x":380,"y":-0.3},{"x":384,"y":0.3},{"x":388,"y":-0.2},{"x":392,"y":0.3},{"x":396,"y":-0.3},{"x":400,"y":0.4},
      {"x":404,"y":-0.9},{"x":408,"y":1.6},{"x":412,"y":-2.2},{"x":416,"y":2.0},{"x":420,"y":-1.5},{"x":424,"y":1.0},{"x":428,"y":-0.6},
      {"x":432,"y":0.4},{"x":436,"y":-0.4},{"x":440,"y":0.3},{"x":444,"y":-0.4},{"x":448,"y":0.4},{"x":452,"y":-0.3},{"x":456,"y":0.4},{"x":460,"y":-0.4},{"x":464,"y":0.3},{"x":468,"y":-0.3},{"x":472,"y":0.4},{"x":476,"y":-0.4},{"x":480,"y":0.3},{"x":484,"y":-0.3},{"x":488,"y":0.4},{"x":492,"y":-0.3},{"x":496,"y":0.3},{"x":500,"y":-0.4},{"x":504,"y":0.3},{"x":508,"y":-0.3},{"x":512,"y":0.4},{"x":516,"y":-0.4},{"x":520,"y":0.3},{"x":524,"y":-0.4},{"x":528,"y":0.5},
      {"x":532,"y":-1.0},{"x":536,"y":1.8},{"x":540,"y":-2.5},{"x":544,"y":2.5},{"x":548,"y":-1.9},{"x":552,"y":1.2},{"x":556,"y":-0.7},
      {"x":560,"y":0.4},{"x":564,"y":-0.4},{"x":568,"y":0.3},{"x":572,"y":-0.4},{"x":576,"y":0.4},{"x":580,"y":-0.3},{"x":584,"y":0.3},{"x":588,"y":-0.4},{"x":592,"y":0.4},{"x":596,"y":-0.3},{"x":600,"y":0.3},{"x":604,"y":-0.2},{"x":608,"y":0.3},{"x":612,"y":-0.3},{"x":616,"y":0.4},
      {"x":620,"y":-0.9},{"x":624,"y":1.5},{"x":628,"y":-1.8},{"x":632,"y":1.4},{"x":636,"y":-0.9},{"x":640,"y":0.6},
      {"x":644,"y":-0.3},{"x":648,"y":0.3},{"x":652,"y":-0.2},{"x":656,"y":0.3},{"x":660,"y":-0.3},{"x":664,"y":0.2},{"x":668,"y":-0.3},{"x":672,"y":0.3},{"x":676,"y":-0.3},{"x":680,"y":0.4},{"x":684,"y":-0.3},{"x":688,"y":0.3},{"x":692,"y":-0.4},{"x":696,"y":0.3},{"x":700,"y":-0.3},{"x":704,"y":0.2},{"x":708,"y":-0.3},{"x":712,"y":0.3},{"x":716,"y":-0.2},{"x":720,"y":0.3},{"x":724,"y":-0.3},{"x":728,"y":0.3},{"x":732,"y":-0.4},{"x":736,"y":0.3},{"x":740,"y":-0.3},{"x":744,"y":0.4},{"x":748,"y":-0.3},{"x":752,"y":0.4},
      {"x":756,"y":-0.8},{"x":760,"y":1.5},{"x":764,"y":-1.4},{"x":768,"y":1.0},{"x":772,"y":-0.9},{"x":776,"y":0.6},
      {"x":780,"y":-0.4},{"x":784,"y":0.3},{"x":788,"y":-0.3},{"x":792,"y":0.4},{"x":796,"y":-0.3},{"x":800,"y":0.3},{"x":804,"y":-0.2},{"x":808,"y":0.3},{"x":812,"y":-0.3},{"x":816,"y":0.2},{"x":820,"y":-0.3},{"x":824,"y":0.3},{"x":828,"y":-0.3},{"x":832,"y":0.2},{"x":836,"y":-0.3},{"x":840,"y":0.3},{"x":844,"y":-0.4},
      {"x":848,"y":0.9},{"x":852,"y":-1.2},{"x":856,"y":1.3},{"x":860,"y":-1.1},{"x":864,"y":1.2},{"x":868,"y":-0.9},{"x":872,"y":0.6},
      {"x":876,"y":-0.4},{"x":880,"y":0.3},{"x":884,"y":-0.3},{"x":888,"y":0.4},{"x":892,"y":-0.3},{"x":896,"y":0.3},{"x":900,"y":-0.4},{"x":904,"y":0.3},{"x":908,"y":-0.3},{"x":912,"y":0.2},{"x":916,"y":-0.3},{"x":920,"y":0.3},{"x":924,"y":-0.3},{"x":928,"y":0.4},{"x":932,"y":-0.3},{"x":936,"y":0.3},{"x":940,"y":-0.2},{"x":944,"y":0.3},{"x":948,"y":-0.3},{"x":952,"y":0.3},{"x":956,"y":-0.4},{"x":960,"y":0.3},{"x":964,"y":-0.4},{"x":968,"y":0.5},
      {"x":972,"y":-0.9},{"x":976,"y":1.3},{"x":980,"y":-1.6},{"x":984,"y":1.8},{"x":988,"y":-1.5},{"x":992,"y":1.2},{"x":996,"y":-0.8},{"x":1000,"y":0.6},
      {"x":1004,"y":-0.4},{"x":1008,"y":0.4},{"x":1012,"y":-0.3},{"x":1016,"y":0.3},{"x":1020,"y":-0.4},{"x":1024,"y":0.3},{"x":1028,"y":-0.3},{"x":1032,"y":0.4},{"x":1036,"y":-0.3},{"x":1040,"y":0.3},{"x":1044,"y":-0.2},{"x":1048,"y":0.3},{"x":1052,"y":-0.3},{"x":1056,"y":0.3},{"x":1060,"y":-0.4},
      {"x":1064,"y":0.9},{"x":1068,"y":-1.3},{"x":1072,"y":1.4},{"x":1076,"y":-1.0},{"x":1080,"y":0.6},
      {"x":1084,"y":-0.3},{"x":1088,"y":0.3},{"x":1092,"y":-0.2},{"x":1096,"y":0.3},{"x":1100,"y":-0.3},{"x":1104,"y":0.4},{"x":1108,"y":-0.3},{"x":1112,"y":0.3},{"x":1116,"y":-0.3},{"x":1120,"y":0.2},{"x":1124,"y":-0.3},{"x":1128,"y":0.3},{"x":1132,"y":-0.2},{"x":1136,"y":0.3},{"x":1140,"y":-0.3},{"x":1144,"y":0.3},{"x":1148,"y":-0.4},{"x":1152,"y":0.3},{"x":1156,"y":-0.3},{"x":1160,"y":0.4},{"x":1164,"y":-0.3},{"x":1168,"y":0.3},{"x":1172,"y":-0.4},{"x":1176,"y":0.3},{"x":1180,"y":-0.3},{"x":1184,"y":0.4},{"x":1188,"y":-0.4},{"x":1192,"y":0.5},
      {"x":1196,"y":-1.2},{"x":1200,"y":2.0},{"x":1204,"y":-2.6},{"x":1208,"y":2.4},{"x":1212,"y":-1.7},{"x":1216,"y":1.1},{"x":1220,"y":-0.7},
      {"x":1224,"y":0.5},{"x":1228,"y":-0.4},{"x":1232,"y":0.4},{"x":1236,"y":-0.3},{"x":1240,"y":0.4},{"x":1244,"y":-0.3},{"x":1248,"y":0.3},{"x":1252,"y":-0.4},{"x":1256,"y":0.3},{"x":1260,"y":-0.3},{"x":1264,"y":0.4},{"x":1268,"y":-0.3},{"x":1272,"y":0.3},{"x":1276,"y":-0.4},{"x":1280,"y":0.5},
      {"x":1284,"y":-1.1},{"x":1288,"y":2.2},{"x":1292,"y":-1.9},{"x":1296,"y":1.2},{"x":1300,"y":-0.7},
      {"x":1304,"y":0.5},{"x":1308,"y":-0.4},{"x":1312,"y":0.4},{"x":1316,"y":-0.3},{"x":1320,"y":0.4},{"x":1324,"y":-0.4},{"x":1328,"y":0.3},{"x":1332,"y":-0.4},{"x":1336,"y":0.3},{"x":1340,"y":-0.3},{"x":1344,"y":0.4},{"x":1348,"y":-0.3},{"x":1352,"y":0.4},{"x":1356,"y":-0.4},{"x":1360,"y":0.3},{"x":1364,"y":-0.3},{"x":1368,"y":0.4},{"x":1372,"y":-0.3},{"x":1376,"y":0.3},{"x":1380,"y":-0.4},{"x":1384,"y":0.4},{"x":1388,"y":-0.3},{"x":1392,"y":0.4},{"x":1396,"y":-0.3},{"x":1400,"y":0.3}
    ],
    "callout": [{"x": 717, "y": 8.1}],
    "arrow": [{"x": 802, "y": 4.6, "x2": 912, "y2": -33.5}],
    "head": [{"x": 916, "y": -35.1}],
    "box": [{"x": 890, "x2": 1200, "y": 4.2, "y2": -4.9, "lx": 1044, "ly": -0.3, "label": "No Load"}]
  },
  "vconcat": [
    {
      "width": 744, "height": 60,
      "layer": [
        {"data": {"name": "s"}, "mark": {"type": "line", "color": "#cc2e2e", "strokeWidth": 1, "clip": true},
         "encoding": {
           "x": {"field": "x", "type": "quantitative", "scale": {"domain": [0, 1400], "nice": false, "zero": false}, "axis": {"orient": "bottom", "values": [200, 400, 600, 800, 1000, 1200, 1400], "labels": false, "title": null}},
           "y": {"field": "y", "type": "quantitative", "scale": {"domain": [-6.5, 21.4], "nice": false, "zero": false}, "axis": {"orient": "left", "values": [0, 10, 20], "title": "×10⁻³", "titleAngle": 0, "titleAlign": "left", "titleBaseline": "alphabetic", "titleX": 2, "titleY": -6, "titleFont": "Liberation Sans", "titleFontSize": 14, "titleFontWeight": "normal", "titleColor": "#333333"}}
         }},
        {"data": {"name": "s"}, "mark": {"type": "line", "strokeOpacity": 0},
         "encoding": {
           "x": {"field": "x", "type": "quantitative", "scale": {"domain": [0, 1400], "nice": false, "zero": false}, "axis": {"orient": "top", "values": [200, 400, 600, 800, 1000, 1200, 1400], "labels": false, "title": null}},
           "y": {"field": "y", "type": "quantitative", "scale": {"domain": [-6.5, 21.4], "nice": false, "zero": false}, "axis": {"orient": "right", "values": [0, 10, 20], "labels": false, "title": null}}
         }},
        {"data": {"name": "callout"}, "mark": {"type": "point", "shape": "M-1,0A1,0.885,0,1,1,1,0A1,0.885,0,1,1,-1,0Z", "size": 9216, "filled": false, "stroke": "#e8262b", "strokeWidth": 4, "opacity": 1, "clip": false},
         "encoding": {
           "x": {"field": "x", "type": "quantitative", "scale": {"domain": [0, 1400], "nice": false, "zero": false}, "axis": null},
           "y": {"field": "y", "type": "quantitative", "scale": {"domain": [-6.5, 21.4], "nice": false, "zero": false}, "axis": null}
         }},
        {"data": {"name": "arrow"}, "mark": {"type": "rule", "color": "#e8262b", "strokeWidth": 2, "clip": false},
         "encoding": {
           "x": {"field": "x", "type": "quantitative", "scale": {"domain": [0, 1400], "nice": false, "zero": false}, "axis": null},
           "y": {"field": "y", "type": "quantitative", "scale": {"domain": [-6.5, 21.4], "nice": false, "zero": false}, "axis": null},
           "x2": {"field": "x2"},
           "y2": {"field": "y2"}
         }},
        {"data": {"name": "head"}, "mark": {"type": "point", "shape": "M0,1L-0.9,-1L0.9,-1Z", "size": 225, "filled": true, "color": "#e8262b", "opacity": 1, "angle": -35, "clip": false},
         "encoding": {
           "x": {"field": "x", "type": "quantitative", "scale": {"domain": [0, 1400], "nice": false, "zero": false}, "axis": null},
           "y": {"field": "y", "type": "quantitative", "scale": {"domain": [-6.5, 21.4], "nice": false, "zero": false}, "axis": null}
         }}
      ],
      "resolve": {"axis": {"x": "independent", "y": "independent"}}
    },
    {
      "width": 744, "height": 60,
      "layer": [
        {"data": {"name": "a5"}, "mark": {"type": "line", "interpolate": "step-after", "color": "#3f3fa6", "strokeWidth": 1.2, "clip": true},
         "encoding": {
           "x": {"field": "x", "type": "quantitative", "scale": {"domain": [0, 1400], "nice": false, "zero": false}, "axis": {"orient": "bottom", "values": [200, 400, 600, 800, 1000, 1200, 1400], "labels": false, "title": null}},
           "y": {"field": "y", "type": "quantitative", "scale": {"domain": [-3.3, 18.6], "nice": false, "zero": false}, "axis": {"orient": "left", "values": [0, 5, 10, 15], "title": null}}
         }},
        {"data": {"name": "a5"}, "mark": {"type": "line", "strokeOpacity": 0},
         "encoding": {
           "x": {"field": "x", "type": "quantitative", "scale": {"domain": [0, 1400], "nice": false, "zero": false}, "axis": {"orient": "top", "values": [200, 400, 600, 800, 1000, 1200, 1400], "labels": false, "title": null}},
           "y": {"field": "y", "type": "quantitative", "scale": {"domain": [-3.3, 18.6], "nice": false, "zero": false}, "axis": {"orient": "right", "values": [0, 5, 10, 15], "labels": false, "title": null}}
         }}
      ],
      "resolve": {"axis": {"x": "independent", "y": "independent"}}
    },
    {
      "width": 744, "height": 60,
      "layer": [
        {"data": {"name": "d5"}, "mark": {"type": "line", "interpolate": "step-after", "color": "#3d9a50", "strokeWidth": 1.2, "clip": true},
         "encoding": {
           "x": {"field": "x", "type": "quantitative", "scale": {"domain": [0, 1400], "nice": false, "zero": false}, "axis": {"orient": "bottom", "values": [200, 400, 600, 800, 1000, 1200, 1400], "labels": false, "title": null}},
           "y": {"field": "y", "type": "quantitative", "scale": {"domain": [-4.45, 4.45], "nice": false, "zero": false}, "axis": {"orient": "left", "values": [-4, 0, 4], "title": "Amplitude (mV)", "titleX": -52, "titleY": 24, "titleAngle": 270, "titleAlign": "center", "titleBaseline": "alphabetic"}}
         }},
        {"data": {"name": "d5"}, "mark": {"type": "line", "strokeOpacity": 0},
         "encoding": {
           "x": {"field": "x", "type": "quantitative", "scale": {"domain": [0, 1400], "nice": false, "zero": false}, "axis": {"orient": "top", "values": [200, 400, 600, 800, 1000, 1200, 1400], "labels": false, "title": null}},
           "y": {"field": "y", "type": "quantitative", "scale": {"domain": [-4.45, 4.45], "nice": false, "zero": false}, "axis": {"orient": "right", "values": [-4, 0, 4], "labels": false, "title": null}}
         }},
        {"data": {"name": "box"}, "mark": {"type": "rect", "fillOpacity": 0, "stroke": "#e8262b", "strokeWidth": 4.5, "clip": false},
         "encoding": {
           "x": {"field": "x", "type": "quantitative", "scale": {"domain": [0, 1400], "nice": false, "zero": false}, "axis": null},
           "x2": {"field": "x2"},
           "y": {"field": "y", "type": "quantitative", "scale": {"domain": [-4.45, 4.45], "nice": false, "zero": false}, "axis": null},
           "y2": {"field": "y2"}
         }},
        {"data": {"name": "box"}, "mark": {"type": "text", "font": "Liberation Serif", "fontSize": 29, "fontWeight": "bold", "color": "#e8262b", "align": "center", "baseline": "middle", "clip": false},
         "encoding": {
           "x": {"field": "lx", "type": "quantitative", "scale": {"domain": [0, 1400], "nice": false, "zero": false}, "axis": null},
           "y": {"field": "ly", "type": "quantitative", "scale": {"domain": [-4.45, 4.45], "nice": false, "zero": false}, "axis": null},
           "text": {"field": "label"}
         }}
      ],
      "resolve": {"axis": {"x": "independent", "y": "independent"}}
    },
    {
      "width": 744, "height": 60,
      "layer": [
        {"data": {"name": "d4"}, "mark": {"type": "line", "interpolate": "step-after", "color": "#3d9a50", "strokeWidth": 1.2, "clip": true},
         "encoding": {
           "x": {"field": "x", "type": "quantitative", "scale": {"domain": [0, 1400], "nice": false, "zero": false}, "axis": {"orient": "bottom", "values": [200, 400, 600, 800, 1000, 1200, 1400], "labels": false, "title": null}},
           "y": {"field": "y", "type": "quantitative", "scale": {"domain": [-2.52, 2.7], "nice": false, "zero": false}, "axis": {"orient": "left", "values": [-2, 0, 2], "title": null}}
         }},
        {"data": {"name": "d4"}, "mark": {"type": "line", "strokeOpacity": 0},
         "encoding": {
           "x": {"field": "x", "type": "quantitative", "scale": {"domain": [0, 1400], "nice": false, "zero": false}, "axis": {"orient": "top", "values": [200, 400, 600, 800, 1000, 1200, 1400], "labels": false, "title": null}},
           "y": {"field": "y", "type": "quantitative", "scale": {"domain": [-2.52, 2.7], "nice": false, "zero": false}, "axis": {"orient": "right", "values": [-2, 0, 2], "labels": false, "title": null}}
         }}
      ],
      "resolve": {"axis": {"x": "independent", "y": "independent"}}
    },
    {
      "width": 744, "height": 60,
      "layer": [
        {"data": {"name": "d3"}, "mark": {"type": "line", "interpolate": "step-after", "color": "#4cb658", "strokeWidth": 1.1, "clip": true},
         "encoding": {
           "x": {"field": "x", "type": "quantitative", "scale": {"domain": [0, 1400], "nice": false, "zero": false}, "axis": {"orient": "bottom", "values": [200, 400, 600, 800, 1000, 1200, 1400], "labels": false, "title": null}},
           "y": {"field": "y", "type": "quantitative", "scale": {"domain": [-2, 2], "nice": false, "zero": false}, "axis": {"orient": "left", "values": [-1, 0, 1], "title": "d₃", "titleAngle": 0, "titleAlign": "center", "titleBaseline": "alphabetic", "titleX": -48, "titleY": 30, "titleFont": "Liberation Sans", "titleFontWeight": "bold", "titleFontSize": 15}}
         }},
        {"data": {"name": "d3"}, "mark": {"type": "line", "strokeOpacity": 0},
         "encoding": {
           "x": {"field": "x", "type": "quantitative", "scale": {"domain": [0, 1400], "nice": false, "zero": false}, "axis": {"orient": "top", "values": [200, 400, 600, 800, 1000, 1200, 1400], "labels": false, "title": null}},
           "y": {"field": "y", "type": "quantitative", "scale": {"domain": [-2, 2], "nice": false, "zero": false}, "axis": {"orient": "right", "values": [-1, 0, 1], "labels": false, "title": null}}
         }}
      ],
      "resolve": {"axis": {"x": "independent", "y": "independent"}}
    },
    {
      "width": 744, "height": 60,
      "layer": [
        {"data": {"name": "d2"}, "mark": {"type": "line", "color": "#45b545", "strokeWidth": 1.5, "clip": true},
         "encoding": {
           "x": {"field": "x", "type": "quantitative", "scale": {"domain": [0, 1400], "nice": false, "zero": false}, "axis": {"orient": "bottom", "values": [200, 400, 600, 800, 1000, 1200, 1400], "labels": false, "title": null}},
           "y": {"field": "y", "type": "quantitative", "scale": {"domain": [-2.05, 1.95], "nice": false, "zero": false}, "axis": {"orient": "left", "values": [-1, 0, 1], "title": "d₂", "titleAngle": 0, "titleAlign": "center", "titleBaseline": "alphabetic", "titleX": -48, "titleY": 32, "titleFont": "Liberation Sans", "titleFontWeight": "bold", "titleFontSize": 15}}
         }},
        {"data": {"name": "d2"}, "mark": {"type": "line", "strokeOpacity": 0},
         "encoding": {
           "x": {"field": "x", "type": "quantitative", "scale": {"domain": [0, 1400], "nice": false, "zero": false}, "axis": {"orient": "top", "values": [200, 400, 600, 800, 1000, 1200, 1400], "labels": false, "title": null}},
           "y": {"field": "y", "type": "quantitative", "scale": {"domain": [-2.05, 1.95], "nice": false, "zero": false}, "axis": {"orient": "right", "values": [-1, 0, 1], "labels": false, "title": null}}
         }}
      ],
      "resolve": {"axis": {"x": "independent", "y": "independent"}}
    },
    {
      "width": 744, "height": 60,
      "layer": [
        {"data": {"name": "d1"}, "mark": {"type": "line", "color": "#52bb4f", "strokeWidth": 1.6, "clip": true},
         "encoding": {
           "x": {"field": "x", "type": "quantitative", "scale": {"domain": [0, 1400], "nice": false, "zero": false}, "axis": {"orient": "bottom", "values": [200, 400, 600, 800, 1000, 1200, 1400], "format": "d", "labels": true, "labelPadding": 10, "title": "Time (ms)", "titleY": 62, "titleBaseline": "alphabetic"}},
           "y": {"field": "y", "type": "quantitative", "scale": {"domain": [-2.6, 2.6], "nice": false, "zero": false}, "axis": {"orient": "left", "values": [-2, 0, 2], "title": "d₁", "titleAngle": 0, "titleAlign": "center", "titleBaseline": "alphabetic", "titleX": -48, "titleY": 32, "titleFont": "Liberation Sans", "titleFontWeight": "bold", "titleFontSize": 15}}
         }},
        {"data": {"name": "d1"}, "mark": {"type": "line", "strokeOpacity": 0},
         "encoding": {
           "x": {"field": "x", "type": "quantitative", "scale": {"domain": [0, 1400], "nice": false, "zero": false}, "axis": {"orient": "top", "values": [200, 400, 600, 800, 1000, 1200, 1400], "labels": false, "title": null}},
           "y": {"field": "y", "type": "quantitative", "scale": {"domain": [-2.6, 2.6], "nice": false, "zero": false}, "axis": {"orient": "right", "values": [-2, 0, 2], "labels": false, "title": null}}
         }}
      ],
      "resolve": {"axis": {"x": "independent", "y": "independent"}}
    }
  ]
}
